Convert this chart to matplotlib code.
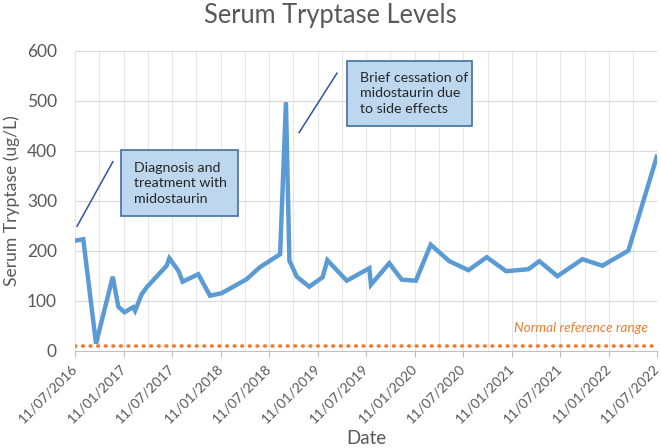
import matplotlib
matplotlib.use("Agg")
import matplotlib.pyplot as plt
import matplotlib.dates as mdates
from matplotlib.patches import Rectangle
import pandas as pd

plt.rcParams['font.family'] = ['Lato', 'DejaVu Sans']

# sample dates and tryptase values
dates = ['2016-07-11', '2016-08-11', '2016-09-28', '2016-11-30', '2016-12-21',
         '2017-01-13', '2017-02-15', '2017-02-22', '2017-03-19', '2017-04-07',
         '2017-06-21', '2017-07-01', '2017-08-04', '2017-08-20', '2017-10-18',
         '2017-12-01', '2018-01-14', '2018-04-18', '2018-06-07', '2018-08-22',
         '2018-09-13', '2018-09-26', '2018-10-24', '2018-12-10', '2019-01-29',
         '2019-02-16', '2019-04-30', '2019-07-24', '2019-07-30', '2019-10-07',
         '2019-11-23', '2020-01-15', '2020-03-11', '2020-05-20', '2020-07-31',
         '2020-10-08', '2020-12-20', '2021-03-14', '2021-04-24', '2021-07-01',
         '2021-10-03', '2021-12-17', '2022-03-25', '2022-07-10']
tryptase = [220, 223, 14, 148, 88,
            77, 87, 80, 113, 127,
            170, 185, 160, 138, 153,
            110, 115, 143, 167, 193,
            497, 180, 148, 128, 147,
            181, 140, 165, 132, 175,
            142, 140, 212, 179, 161,
            187, 159, 163, 179, 149,
            183, 170, 200, 388]
normal_ref = 10
tick_dates = pd.date_range('2016-07-01', '2022-07-01', freq='6MS') + pd.Timedelta(days=10)
grid_dates = pd.date_range('2016-07-01', '2022-07-01', freq='3MS') + pd.Timedelta(days=10)

x = pd.to_datetime(dates)
start, end = pd.Timestamp('2016-07-11'), pd.Timestamp('2022-07-11')

fig = plt.figure(figsize=(6.61, 4.48), dpi=100)
ax = fig.add_axes([0.1135, 0.2172, 0.8805, 0.6696])

grey = '#595959'
for g in grid_dates:
    ax.axvline(g, color='#e6e6e6', lw=0.8, zorder=0)
for v in range(100, 700, 100):
    ax.axhline(v, color='#d9d9d9', lw=0.8, zorder=0)

ax.plot(x, tryptase, color='#5b9bd5', lw=3.2, solid_joinstyle='miter', zorder=3)
ax.plot([start, end], [normal_ref, normal_ref], color='#ed7d31', lw=2.6,
        linestyle=(0, (0.2, 1.9)), dash_capstyle='round', zorder=2)
ax.text(0.985, 0.075, 'Normal reference range', transform=ax.transAxes,
        color='#ed7d31', fontsize=9.8, style='italic', ha='right', va='center')

ax.set_xlim(start, end)
ax.set_ylim(0, 600)
ax.set_xticks(tick_dates)
ax.xaxis.set_major_formatter(mdates.DateFormatter('%d/%m/%Y'))
ax.set_yticks(range(0, 700, 100))
for lbl in ax.get_xticklabels():
    lbl.set_rotation(45)
    lbl.set_ha('right')
    lbl.set_va('center')
    lbl.set_rotation_mode('anchor')
ax.tick_params(axis='x', colors=grey, labelsize=10, length=4, color='#bfbfbf', pad=7)
ax.tick_params(axis='y', colors=grey, labelsize=12.5, length=0, pad=13)

for s in ['top', 'right', 'left']:
    ax.spines[s].set_visible(False)
ax.spines['bottom'].set_color('#bfbfbf')

fig.text(0.5, 0.966, 'Serum Tryptase Levels', fontsize=18.4, color=grey,
         ha='center', va='center')
ax.set_ylabel('Serum Tryptase (ug/L)', fontsize=12.6, color=grey, labelpad=5)
ax.set_xlabel('Date', fontsize=13.5, color=grey, labelpad=4)

# annotation boxes
boxes = [((0.079, 0.449), 0.201, 0.220, 'Diagnosis and\ntreatment with\nmidostaurin'),
         ((0.467, 0.749), 0.215, 0.217, 'Brief cessation of\nmidostaurin due\nto side effects')]
for (bx, by), w, h, txt in boxes:
    ax.add_patch(Rectangle((bx, by), w, h, transform=ax.transAxes, facecolor='#bdd7ee',
                           edgecolor='#41719c', lw=1.2, zorder=4, clip_on=False))
    ax.text(bx + 0.022, by + h / 2, txt, transform=ax.transAxes, fontsize=10.2,
            color='#262626', ha='left', va='center', linespacing=1.35, zorder=5)

ax.plot([0.0035, 0.065], [0.415, 0.63], transform=ax.transAxes, color='#2f5597',
        lw=1.1, zorder=4, clip_on=False)
ax.plot([0.385, 0.45], [0.727, 0.925], transform=ax.transAxes, color='#2f5597',
        lw=1.1, zorder=4, clip_on=False)

fig.savefig('out.png', dpi=100)
